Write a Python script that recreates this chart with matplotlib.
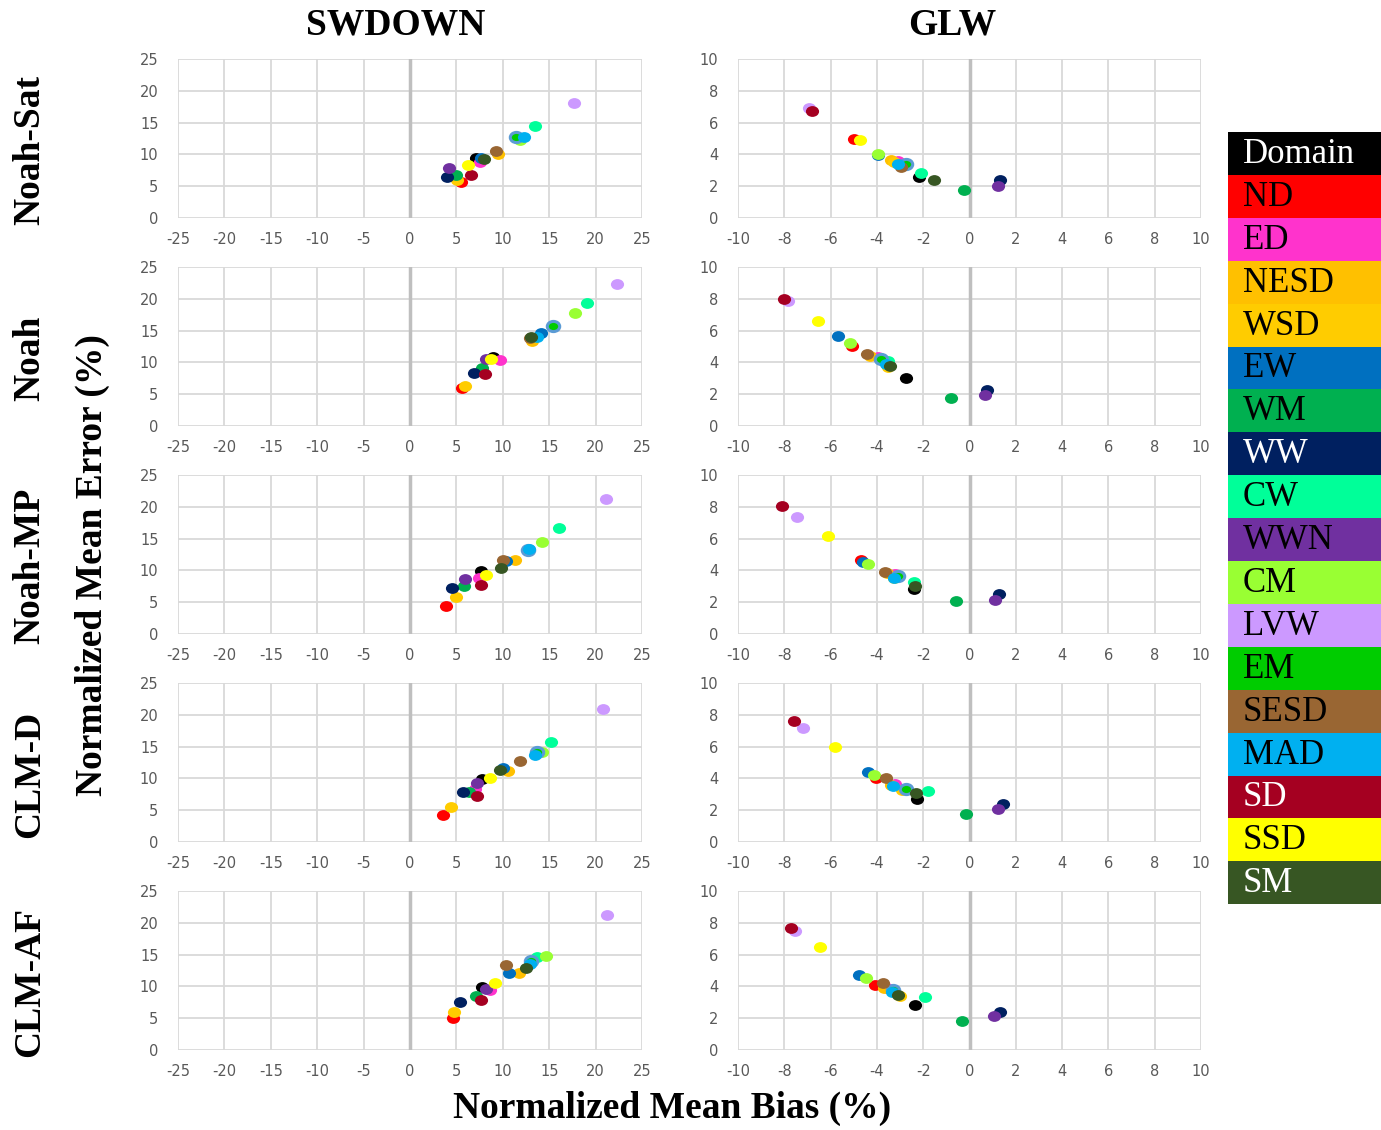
import numpy as np
import matplotlib.pyplot as plt
from matplotlib.path import Path
from matplotlib.transforms import Affine2D

plt.rcParams['axes.unicode_minus'] = False

# domain names and colours (legend order = drawing order)
domains = ["Domain", "ND", "ED", "NESD", "WSD", "EW", "WM", "WW", "CW", "WWN",
           "CM", "LVW", "EM", "SESD", "MAD", "SD", "SSD", "SM"]
colors = ["#000000", "#FF0000", "#FF33CC", "#FFC000", "#FFCC00", "#0070C0", "#00B050",
          "#002060", "#00FF99", "#7030A0", "#99FF33", "#CC99FF", "#00CC00", "#996633",
          "#00B0F0", "#A50021", "#FFFF00", "#375623"]
white_text = ["Domain", "WW", "SD", "SM"]

models = ["Noah-Sat", "Noah", "Noah-MP", "CLM-D", "CLM-AF"]

# SWDOWN: (bias, error) per domain, order as in `domains`
sw_bias = {
    "Noah-Sat": [7.1, 5.5, 7.5, 9.5, 5.1, 7.65, 5.0, 4.0, 13.5, 4.2, 11.9, 17.7, 11.4, 9.3, 12.3, 6.6, 6.2, 8.0],
    "Noah":     [8.9, 5.6, 9.7, 13.2, 5.9, 14.1, 7.8, 6.9, 19.1, 8.2, 17.8, 22.3, 15.4, 12.9, 13.7, 8.1, 8.7, 13.0],
    "Noah-MP":  [7.6, 3.9, 7.4, 11.3, 5.0, 10.3, 5.8, 4.5, 16.1, 5.9, 14.2, 21.1, 12.7, 10.0, 12.8, 7.65, 8.2, 9.8],
    "CLM-D":    [7.8, 3.6, 7.0, 10.6, 4.45, 10.0, 6.4, 5.75, 15.2, 7.2, 14.2, 20.8, 13.65, 11.9, 13.5, 7.25, 8.6, 9.7],
    "CLM-AF":   [7.75, 4.67, 8.6, 11.75, 4.75, 10.7, 7.15, 5.4, 13.65, 8.15, 14.7, 21.2, 13.0, 10.3, 12.9, 7.7, 9.2, 12.5],
}
sw_error = {
    "Noah-Sat": [9.5, 5.7, 8.8, 10.0, 5.9, 9.5, 6.8, 6.4, 14.5, 7.8, 12.2, 18.1, 12.7, 10.5, 12.7, 6.7, 8.4, 9.2],
    "Noah":     [10.8, 5.9, 10.3, 13.4, 6.3, 14.7, 9.1, 8.3, 19.4, 10.6, 17.8, 22.4, 15.8, 13.9, 14.0, 8.1, 10.5, 14.0],
    "Noah-MP":  [9.96, 4.46, 8.8, 11.7, 5.8, 11.4, 7.55, 7.3, 16.6, 8.65, 14.4, 21.2, 13.2, 11.6, 13.3, 7.65, 9.3, 10.3],
    "CLM-D":    [9.96, 4.3, 8.4, 11.1, 5.5, 11.6, 7.9, 7.8, 15.8, 9.2, 14.2, 20.9, 14.2, 12.7, 13.7, 7.3, 10.0, 11.3],
    "CLM-AF":   [9.96, 5.03, 9.38, 12.05, 5.97, 12.05, 8.5, 7.5, 14.7, 9.64, 14.8, 21.2, 14.0, 13.3, 13.5, 7.86, 10.5, 12.9],
}

# GLW: (bias, error) per domain
lw_bias = {
    "Noah-Sat": [-2.2, -5.0, -3.1, -3.38, -3.27, -3.95, -0.22, 1.3, -2.1, 1.22, -3.95, -6.94, -2.75, -2.98, -3.1, -6.8, -4.75, -1.55],
    "Noah":     [-2.74, -5.07, -3.96, -4.3, -3.51, -5.67, -0.82, 0.75, -3.51, 0.65, -5.18, -7.85, -3.82, -4.42, -3.59, -8.02, -6.54, -3.44],
    "Noah-MP":  [-2.4, -4.67, -3.2, -3.56, -3.27, -4.58, -0.58, 1.27, -2.38, 1.11, -4.38, -7.43, -3.1, -3.66, -3.27, -8.08, -6.12, -2.36],
    "CLM-D":    [-2.26, -4.03, -3.2, -3.41, -2.9, -4.39, -0.13, 1.44, -1.78, 1.22, -4.12, -7.21, -2.76, -3.59, -3.3, -7.59, -5.83, -2.29],
    "CLM-AF":   [-2.36, -4.09, -3.56, -3.7, -3.01, -4.78, -0.33, 1.31, -1.93, 1.05, -4.45, -7.52, -3.3, -3.73, -3.34, -7.7, -6.44, -3.1],
}
lw_error = {
    "Noah-Sat": [2.6, 4.95, 3.6, 3.65, 3.5, 3.95, 1.78, 2.37, 2.83, 2.03, 4.05, 6.9, 3.38, 3.2, 3.4, 6.75, 4.9, 2.4],
    "Noah":     [3.04, 5.03, 4.34, 4.42, 3.73, 5.66, 1.76, 2.26, 4.09, 1.95, 5.2, 7.84, 4.21, 4.53, 3.92, 7.97, 6.58, 3.77],
    "Noah-MP":  [2.81, 4.65, 3.75, 3.86, 3.5, 4.53, 2.1, 2.5, 3.29, 2.16, 4.4, 7.38, 3.67, 3.92, 3.5, 8.03, 6.18, 3.02],
    "CLM-D":    [2.72, 4.0, 3.67, 3.58, 3.25, 4.4, 1.74, 2.39, 3.23, 2.1, 4.19, 7.15, 3.35, 4.05, 3.52, 7.59, 5.95, 3.06],
    "CLM-AF":   [2.83, 4.09, 3.92, 3.88, 3.42, 4.74, 1.82, 2.37, 3.35, 2.16, 4.5, 7.48, 3.77, 4.19, 3.63, 7.65, 6.48, 3.48],
}

serif = ["Liberation Serif", "DejaVu Serif"]
tick_col = "#595959"
grid_col = "#D9D9D9"

# slightly flattened dot like the Excel markers
ell = Path.unit_circle().transformed(Affine2D().scale(1.0, 0.82))

fig = plt.figure(figsize=(13.81, 11.30), dpi=100)
W, H = 1381.0, 1130.0


def panel(x0, x1, top, bottom):
    return fig.add_axes([x0 / W, 1 - bottom / H, (x1 - x0) / W, (bottom - top) / H])


row_tops = [59, 267, 475, 683, 891]
for i, m in enumerate(models):
    top = row_tops[i]
    bot = top + 159
    for j, (bx, ey, xl, yl, xt, yt) in enumerate([
        (sw_bias, sw_error, (-25, 25), (0, 25), np.arange(-25, 26, 5), np.arange(0, 26, 5)),
        (lw_bias, lw_error, (-10, 10), (0, 10), np.arange(-10, 11, 2), np.arange(0, 11, 2)),
    ]):
        x0, x1 = (178, 642) if j == 0 else (738, 1201)
        ax = panel(x0, x1, top, bot)
        ax.set_xlim(*xl)
        ax.set_ylim(*yl)
        ax.set_xticks(xt)
        ax.set_yticks(yt)
        ax.grid(True, color=grid_col, linewidth=1.3)
        ax.set_axisbelow(True)
        for s in ax.spines.values():
            s.set_visible(False)
        ax.axvline(0, color="#BFBFBF", linewidth=2.5, zorder=1)
        ax.tick_params(length=0, labelsize=10.5, labelcolor=tick_col, pad=10)
        ax.tick_params(axis="y", pad=14)
        for k, d in enumerate(domains):
            if d == "EM":
                ax.scatter(bx[m][k], ey[m][k], marker=ell, s=80, facecolor=colors[k],
                           edgecolor="#5B9BD5", linewidth=2.2, zorder=3)
            else:
                ax.scatter(bx[m][k], ey[m][k], marker=ell, s=90, color=colors[k],
                           linewidth=0, zorder=3)
    fig.text(30 / W, 1 - (top + 91) / H, m, rotation=90, ha="center", va="center",
             fontsize=27, fontweight="bold", family=serif)

fig.text(396 / W, 1 - 25 / H, "SWDOWN", ha="center", va="center",
         fontsize=27, fontweight="bold", family=serif)
fig.text(952 / W, 1 - 25 / H, "GLW", ha="center", va="center",
         fontsize=27, fontweight="bold", family=serif)
fig.text(92 / W, 1 - 565 / H, "Normalized Mean Error (%)", rotation=90, ha="center",
         va="center", fontsize=27, fontweight="bold", family=serif)
fig.text(672 / W, 1 - 1108 / H, "Normalized Mean Bias (%)", ha="center", va="center",
         fontsize=27, fontweight="bold", family=serif)

# legend as coloured boxes
lg_top, lg_h = 132, 42.9
for k, d in enumerate(domains):
    y = lg_top + k * lg_h
    fig.patches.append(plt.Rectangle((1228 / W, 1 - (y + lg_h) / H), (W - 1228) / W, lg_h / H,
                                     transform=fig.transFigure, facecolor=colors[k],
                                     edgecolor="none"))
    fig.text(1243 / W, 1 - (y + lg_h / 2 + 1) / H, d, ha="left", va="center", fontsize=25,
             family=serif, color="white" if d in white_text else "black")

fig.savefig("out.png", dpi=100)
